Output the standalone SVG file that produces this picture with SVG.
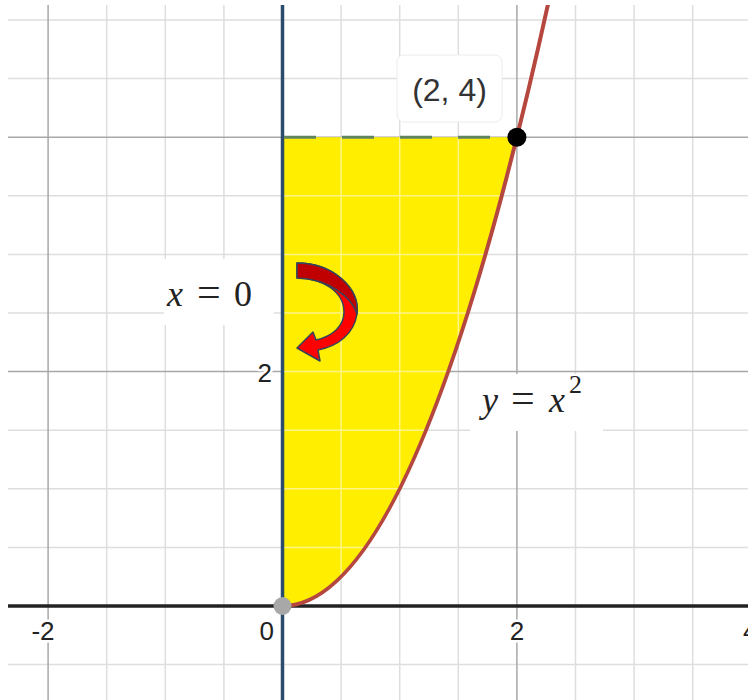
<svg xmlns="http://www.w3.org/2000/svg" width="748" height="700" viewBox="0 0 748 700">
<style>
.minor{stroke:#dedede;stroke-width:1.5}
.major{stroke:#a8a8a8;stroke-width:1.5}
.ov{stroke:#fff5a0;stroke-width:1.5}
.num{font-family:"Liberation Sans",Arial,sans-serif;font-size:26px;fill:#222;stroke:#fff;stroke-width:5;paint-order:stroke;stroke-linejoin:round}
.math{font-family:"Liberation Serif","Times New Roman",serif;font-size:36px;fill:#222}
.eq{font-size:42px}
.lbl{fill:#fff}
</style>
<defs>
<clipPath id="plot"><rect x="8" y="5" width="740" height="695"/></clipPath>
<clipPath id="yel"><path d="M282.5,606 Q399.7,606 516.9,137.2 L282.5,137.2 Z"/></clipPath>
<g id="vgrid">
<line class="minor" x1="106.7" y1="5" x2="106.7" y2="700"/>
<line class="minor" x1="165.3" y1="5" x2="165.3" y2="700"/>
<line class="minor" x1="223.9" y1="5" x2="223.9" y2="700"/>
<line class="minor" x1="341.1" y1="5" x2="341.1" y2="700"/>
<line class="minor" x1="399.7" y1="5" x2="399.7" y2="700"/>
<line class="minor" x1="458.3" y1="5" x2="458.3" y2="700"/>
<line class="minor" x1="575.5" y1="5" x2="575.5" y2="700"/>
<line class="minor" x1="634.1" y1="5" x2="634.1" y2="700"/>
<line class="minor" x1="692.7" y1="5" x2="692.7" y2="700"/>
<line class="minor" x1="8" y1="20" x2="748" y2="20"/>
<line class="minor" x1="8" y1="78.6" x2="748" y2="78.6"/>
<line class="minor" x1="8" y1="195.8" x2="748" y2="195.8"/>
<line class="minor" x1="8" y1="254.4" x2="748" y2="254.4"/>
<line class="minor" x1="8" y1="313" x2="748" y2="313"/>
<line class="minor" x1="8" y1="430.2" x2="748" y2="430.2"/>
<line class="minor" x1="8" y1="488.8" x2="748" y2="488.8"/>
<line class="minor" x1="8" y1="547.4" x2="748" y2="547.4"/>
<line class="minor" x1="8" y1="664.6" x2="748" y2="664.6"/>
<line class="major" x1="48.1" y1="5" x2="48.1" y2="700"/>
<line class="major" x1="516.9" y1="5" x2="516.9" y2="700"/>
<line class="major" x1="8" y1="371.6" x2="748" y2="371.6"/>
<line class="major" x1="8" y1="137.2" x2="748" y2="137.2"/>
</g>
</defs>
<rect width="748" height="700" fill="#fff"/>
<g id="grid"><use href="#vgrid"/></g>
<g id="region">
<path d="M282.5,606 Q399.7,606 516.9,137.2 L282.5,137.2 Z" fill="#ffee00"/>
<g clip-path="url(#yel)" opacity="0.85">
<line class="ov" x1="341.1" y1="5" x2="341.1" y2="700"/>
<line class="ov" x1="399.7" y1="5" x2="399.7" y2="700"/>
<line class="ov" x1="458.3" y1="5" x2="458.3" y2="700"/>
<line class="ov" x1="8" y1="195.8" x2="748" y2="195.8"/>
<line class="ov" x1="8" y1="254.4" x2="748" y2="254.4"/>
<line class="ov" x1="8" y1="313" x2="748" y2="313"/>
<line class="ov" x1="8" y1="371.6" x2="748" y2="371.6"/>
<line class="ov" x1="8" y1="430.2" x2="748" y2="430.2"/>
<line class="ov" x1="8" y1="488.8" x2="748" y2="488.8"/>
<line class="ov" x1="8" y1="547.4" x2="748" y2="547.4"/>
</g>
</g>
<g id="label-x0">
<rect class="lbl" x="164" y="259" width="110" height="66"/>
<text class="math" y="306"><tspan x="167" font-style="italic">x</tspan><tspan x="197" class="eq">=</tspan><tspan x="234">0</tspan></text>
</g>
<g id="label-yx2">
<rect class="lbl" x="470" y="374" width="133" height="57"/>
<text class="math" y="412"><tspan x="482" font-style="italic">y</tspan><tspan x="511" class="eq">=</tspan><tspan x="549" font-style="italic">x</tspan><tspan x="569" y="393" font-size="26">2</tspan></text>
</g>
<g id="ticks">
<text class="num" x="43" y="640" text-anchor="middle">-2</text>
<text class="num" x="274" y="640" text-anchor="end">0</text>
<text class="num" x="517" y="640" text-anchor="middle">2</text>
<text class="num" x="743" y="640">4</text>
<text class="num" x="272" y="382" text-anchor="end">2</text>
</g>
<g id="axes">
<line x1="282.5" y1="5" x2="282.5" y2="700" stroke="#2b4c6b" stroke-width="3.5"/>
<line x1="8" y1="606" x2="748" y2="606" stroke="#222" stroke-width="3.5"/>
</g>
<g id="connectors">
<line x1="284" y1="137.2" x2="516.9" y2="137.2" stroke="#5f845f" stroke-width="3" stroke-dasharray="32 26"/>
<path d="M282.5,606 Q417.3,606 552,-14" fill="none" stroke="#b5473f" stroke-width="4" clip-path="url(#plot)"/>
<g id="rotation-arrow" stroke="#34445a" stroke-width="1.5" stroke-linejoin="round">
<path d="M297,263 C333,263 360,288 357,314 C354,334 338,346 318,350 L320,361 L297,348 L313,332 L316,340 C333,336 344,326 344,312 C344,292 323,278 297,278 Z" fill="#ff0000"/>
<path d="M297,263 C333,263 360,288 357,314 C352,298 330,279 297,278 Z" fill="#c00000"/>
</g>
</g>
<g id="point-origin"><circle cx="282.5" cy="606" r="9" fill="#a8a8a8"/></g>
<g id="point-24"><circle cx="516.9" cy="137.2" r="9.5" fill="#000"/></g>
<g id="label-24">
<rect x="397" y="55" width="105" height="67" rx="7" fill="#fff" stroke="#ececec" stroke-width="1"/>
<text x="449.5" y="101" text-anchor="middle" font-family="Liberation Sans,Arial,sans-serif" font-size="32" fill="#333">(2, 4)</text>
</g>
</svg>
